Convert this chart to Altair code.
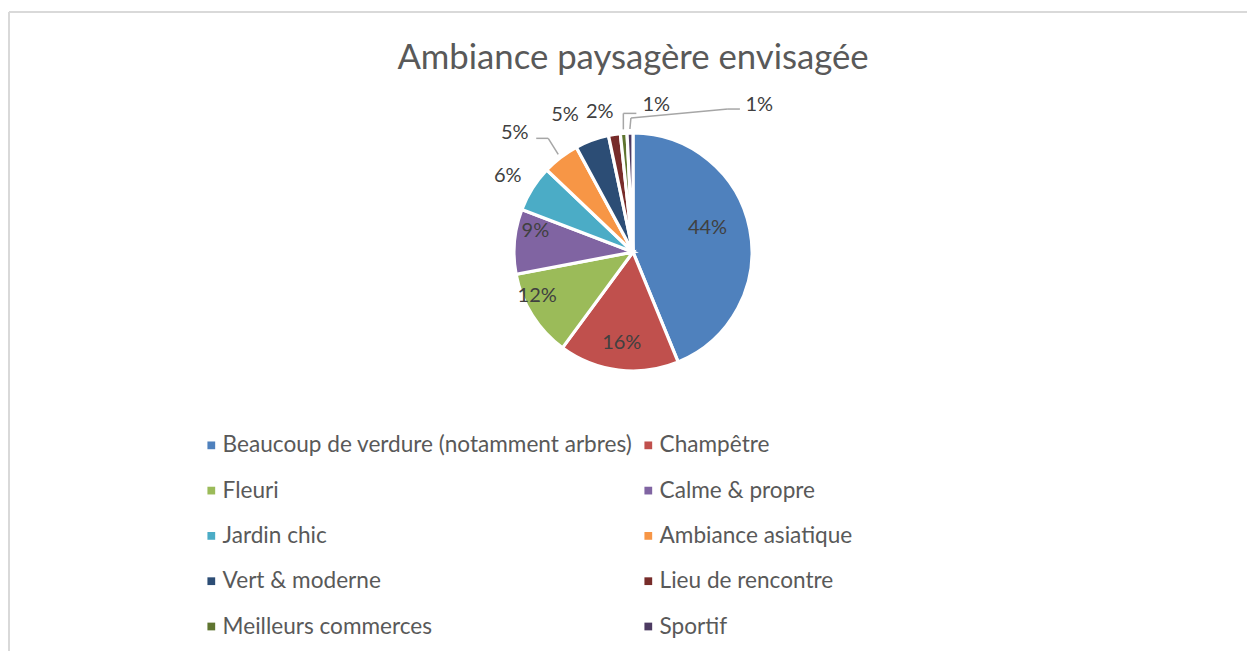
import altair as alt
import pandas as pd

# ---- data ----
title_text = "Ambiance paysagère envisagée"
categories = [
    "Beaucoup de verdure (notamment arbres)",
    "Champêtre",
    "Fleuri",
    "Calme & propre",
    "Jardin chic",
    "Ambiance asiatique",
    "Vert & moderne",
    "Lieu de rencontre",
    "Meilleurs commerces",
    "Sportif",
]
shares = [43.8, 16.3, 11.9, 8.8, 6.3, 5.0, 4.6, 1.6, 0.9, 0.8]
colors = ["#4F81BD", "#C0504D", "#9BBB59", "#8064A2", "#4BACC6",
          "#F79646", "#2C4D75", "#772C2A", "#5F7530", "#4D3B62"]

df = pd.DataFrame({"cat": categories, "share": shares, "order": list(range(len(categories)))})

# ---- layout / style ----
W, H = 1247, 651
CX, CY, R = 633, 252, 119
FONT = "Lato"
TXT = "#404040"
GREY = "#595959"
LINE = "#A6A6A6"

# label placement per slice: (radius, dx, dy)
label_style = {
    categories[0]: (79, -3, -9),
    categories[1]: (92, 0, 0),
    categories[2]: (105, -7, -12),
    categories[3]: (98, 0, -12),
    categories[4]: (148, 0, 3),
    categories[5]: (150, -27, 0),
    categories[6]: (142, -19, -4),
    categories[7]: (142, -11, 0),
    categories[8]: (150, 35, 3),
    categories[9]: (150, 130, 3),
}

color_scale = alt.Scale(domain=categories, range=colors)

pie = alt.Chart(df).mark_arc(outerRadius=R, stroke="white", strokeWidth=3.2).encode(
    theta=alt.Theta("share:Q", stack=True),
    order=alt.Order("order:Q"),
    color=alt.Color(
        "cat:N", scale=color_scale, sort=categories,
        legend=alt.Legend(
            title=None, orient="none", legendX=200, legendY=434, columns=2,
            direction="horizontal",
            symbolType="square", symbolSize=60, symbolStrokeWidth=0,
            labelFont=FONT, labelFontSize=22.6, labelColor=GREY,
            labelOffset=0, rowPadding=22.3, columnPadding=4, labelLimit=600,
        ),
    ),
    x=alt.value(CX),
    y=alt.value(CY),
)

layers = [pie]

for cat, (rad, dx, dy) in label_style.items():
    safe = cat.replace("'", "\\'")
    t = alt.Chart(df).transform_calculate(
        label=f"datum.cat == '{safe}' ? format(datum.share, '.0f') + '%' : ''"
    ).mark_text(radius=rad, dx=dx, dy=dy, font=FONT, fontSize=20, color=TXT,
                align="center", baseline="middle").encode(
        theta=alt.Theta("share:Q", stack=True),
        order=alt.Order("order:Q"),
        text="label:N",
        x=alt.value(CX),
        y=alt.value(CY),
    )
    layers.append(t)

# leader lines (computed from slice mid angles)
geo = alt.Chart(df).transform_joinaggregate(total="sum(share)").transform_window(
    cum="sum(share)", sort=[alt.SortField("order")], frame=[None, 0]
).transform_calculate(
    ang="(datum.cum - datum.share / 2) / datum.total * 2 * PI"
).transform_calculate(
    px=f"{CX} + 123 * sin(datum.ang)",
    py=f"{CY} - 123 * cos(datum.ang)",
)

def seg(cat, ax, ay, bx, by):
    return geo.transform_filter(alt.datum.cat == cat).transform_calculate(
        x1=f"datum.px + {ax}", y1=f"datum.py + {ay}",
        x2=f"datum.px + {bx}", y2=f"datum.py + {by}",
    ).mark_rule(color=LINE, strokeWidth=1.5).encode(
        x=alt.X("x1:Q", scale=None, axis=None),
        y=alt.Y("y1:Q", scale=None, axis=None),
        x2="x2:Q",
        y2="y2:Q",
    )

layers += [
    seg(categories[5], 0, 0, -10, -16),
    seg(categories[5], -10, -16, -22, -16),
    seg(categories[8], 0, 0, 0, -16),
    seg(categories[8], 0, -16, 13, -16),
    seg(categories[9], 0, 0, 1, -11),
    seg(categories[9], 1, -11, 98, -20),
    seg(categories[9], 98, -20, 110, -20),
]

# title
title = alt.Chart(pd.DataFrame({"t": [title_text]})).mark_text(
    font=FONT, fontSize=34.7, color=GREY, align="center", baseline="alphabetic"
).encode(text="t:N", x=alt.value(633), y=alt.value(69))
layers.append(title)

# chart frame
frame_df = pd.DataFrame({"a": [0]})
top_rule = alt.Chart(frame_df).mark_rule(color="#D9D9D9", strokeWidth=2).encode(
    x=alt.value(9), x2=alt.value(W), y=alt.value(12))
left_rule = alt.Chart(frame_df).mark_rule(color="#D9D9D9", strokeWidth=2).encode(
    x=alt.value(9), y=alt.value(12), y2=alt.value(H))
layers += [top_rule, left_rule]

chart = alt.layer(*layers).properties(
    width=W, height=H, padding=0, background="white",
    autosize=alt.AutoSizeParams(type="none"),
).configure_view(stroke=None)

chart.save("out.html", embed_options={"renderer": "svg", "actions": False})
